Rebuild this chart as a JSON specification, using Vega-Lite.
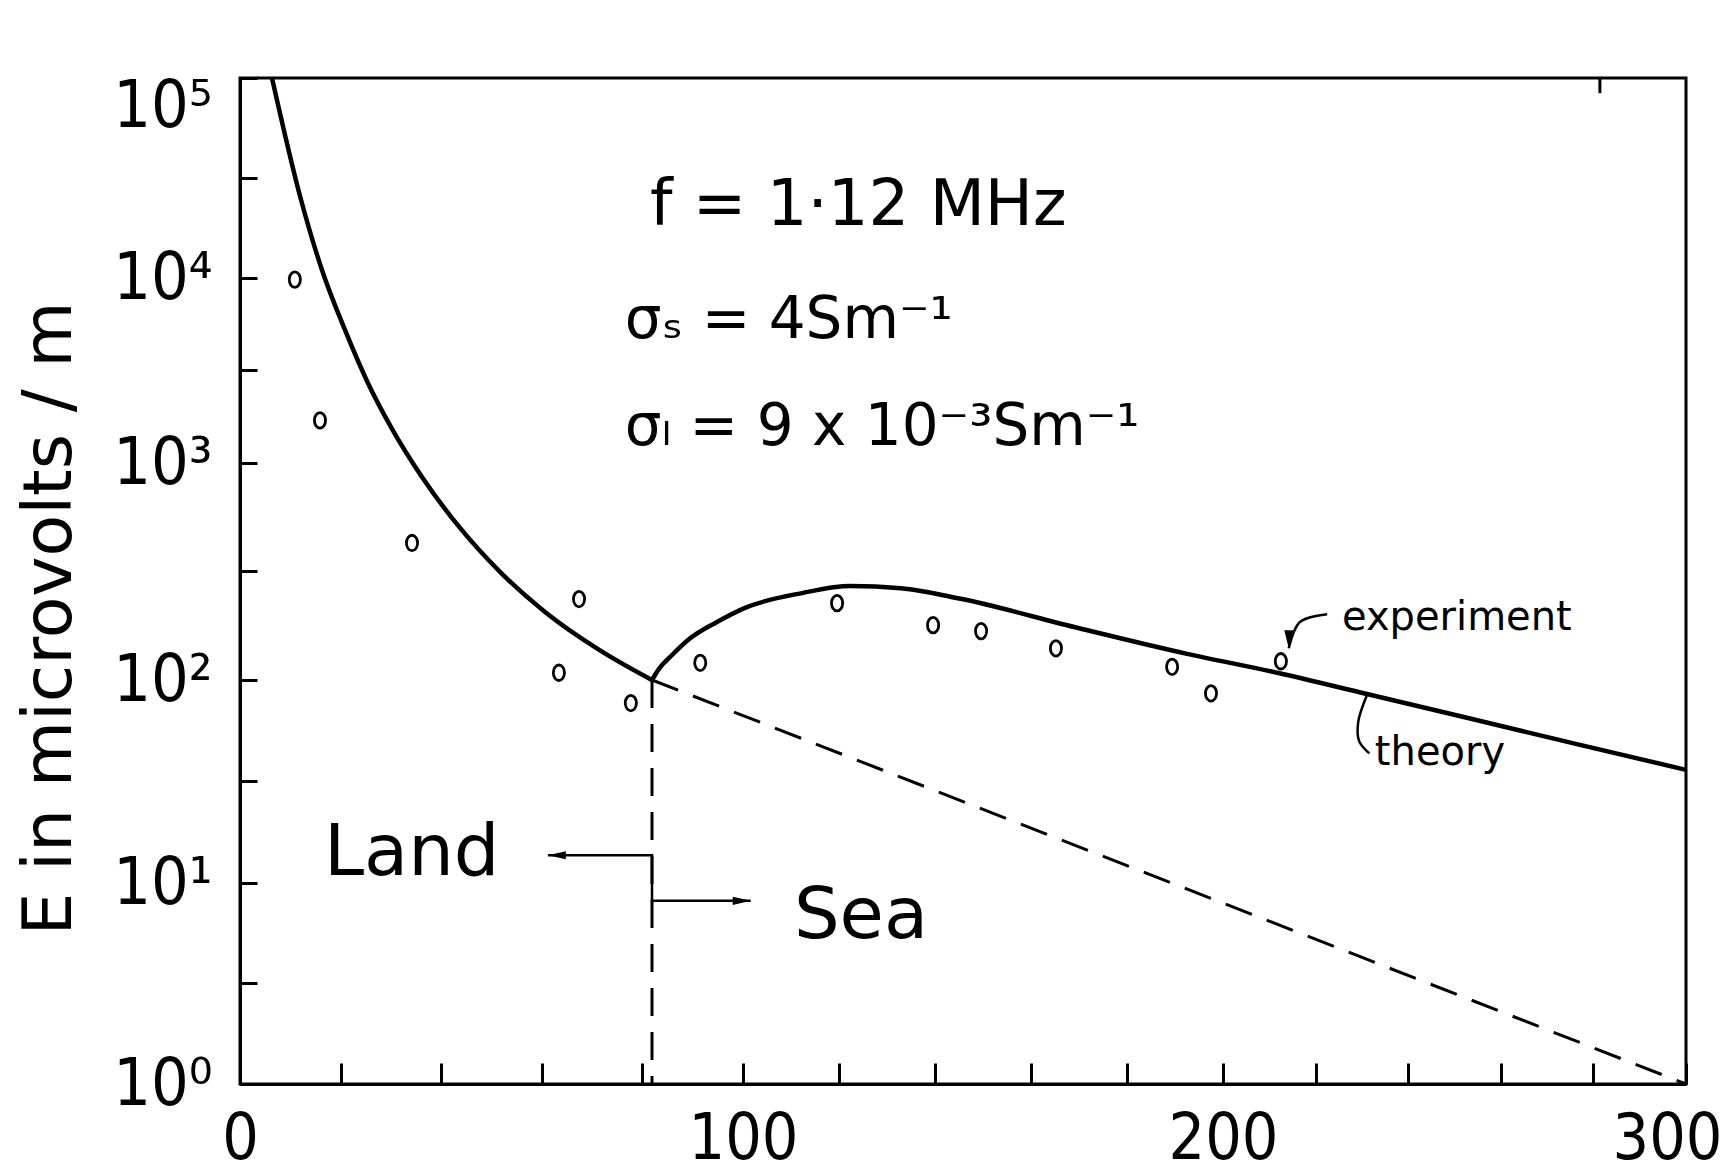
{
  "$schema": "https://vega.github.io/schema/vega-lite/v6.json",
  "width": 1446,
  "height": 1006,
  "autosize": "none",
  "padding": {"left": 240, "top": 78, "right": 45, "bottom": 89},
  "background": "white",
  "config": {
    "view": {"stroke": "black", "strokeWidth": 3},
    "font": "DejaVu Sans"
  },
  "datasets": {
    "theory": [
      {"km": 6.36, "E": 100000, "segment": "land"},
      {"km": 11.93, "E": 25700, "segment": "land"},
      {"km": 16.3, "E": 10960, "segment": "land"},
      {"km": 20.87, "E": 5240, "segment": "land"},
      {"km": 25.45, "E": 2700, "segment": "land"},
      {"km": 30.22, "E": 1530, "segment": "land"},
      {"km": 36.18, "E": 862, "segment": "land"},
      {"km": 43.74, "E": 502, "segment": "land"},
      {"km": 51.69, "E": 315, "segment": "land"},
      {"km": 60.64, "E": 206, "segment": "land"},
      {"km": 71.57, "E": 137, "segment": "land"},
      {"km": 81.91, "E": 100, "segment": "land"},
      {"km": 81.91, "E": 100, "segment": "sea"},
      {"km": 83.3, "E": 112.5, "segment": "sea"},
      {"km": 85.7, "E": 129, "segment": "sea"},
      {"km": 89.07, "E": 153, "segment": "sea"},
      {"km": 94.83, "E": 185, "segment": "sea"},
      {"km": 100.42, "E": 215, "segment": "sea"},
      {"km": 112.5, "E": 252, "segment": "sea"},
      {"km": 122.3, "E": 271, "segment": "sea"},
      {"km": 132.9, "E": 265, "segment": "sea"},
      {"km": 145.6, "E": 236, "segment": "sea"},
      {"km": 169.2, "E": 175, "segment": "sea"},
      {"km": 192.5, "E": 132, "segment": "sea"},
      {"km": 211.7, "E": 108, "segment": "sea"},
      {"km": 231.1, "E": 85.3, "segment": "sea"},
      {"km": 252.9, "E": 65.0, "segment": "sea"},
      {"km": 277.1, "E": 47.9, "segment": "sea"},
      {"km": 300, "E": 36.1, "segment": "sea"}
    ],
    "experiment": [
      {"km": 10.9, "E": 9800},
      {"km": 15.9, "E": 1700},
      {"km": 34.2, "E": 428},
      {"km": 63.4, "E": 108},
      {"km": 67.4, "E": 236},
      {"km": 77.7, "E": 77},
      {"km": 91.5, "E": 120},
      {"km": 119.6, "E": 226},
      {"km": 139.6, "E": 179},
      {"km": 149.6, "E": 168},
      {"km": 165.2, "E": 140},
      {"km": 189.4, "E": 115},
      {"km": 197.5, "E": 86},
      {"km": 212.5, "E": 122}
    ],
    "dashed": [
      {"km": 81.91, "E": 100, "part": "boundary"},
      {"km": 81.91, "E": 1, "part": "boundary"},
      {"km": 81.91, "E": 100, "part": "land-only"},
      {"km": 300, "E": 1, "part": "land-only"}
    ],
    "arrow": [
      {"km": 61.2, "E": 13.7, "step": 1},
      {"km": 81.91, "E": 13.7, "step": 2},
      {"km": 81.91, "E": 8.15, "step": 3},
      {"km": 101.6, "E": 8.15, "step": 4}
    ],
    "pointers": [
      {"km": 222.5, "E": 201, "part": "experiment", "step": 1},
      {"km": 216.6, "E": 185, "part": "experiment", "step": 2},
      {"km": 214.2, "E": 140, "part": "experiment", "step": 3},
      {"km": 231.1, "E": 84.3, "part": "theory", "step": 1},
      {"km": 229.2, "E": 62, "part": "theory", "step": 2},
      {"km": 229.4, "E": 50, "part": "theory", "step": 3},
      {"km": 231.6, "E": 43.5, "part": "theory", "step": 4}
    ],
    "heads": [
      {"km": 61.2, "E": 13.7, "dir": "left"},
      {"km": 101.6, "E": 8.15, "dir": "right"},
      {"km": 214.2, "E": 140, "dir": "down"}
    ],
    "toptick": [
      {"km": 281.4, "E": 100000, "E2": 84000}
    ],
    "notes": [
      {"km": 81.5, "E": 18400, "label": "f = 1·12 MHz", "group": "freq"},
      {"km": 76.5, "E": 4740, "label": "σₛ = 4Sm⁻¹", "group": "params"},
      {"km": 76.5, "E": 1250, "label": "σₗ = 9 x 10⁻³Sm⁻¹", "group": "params"},
      {"km": 16.7, "E": 10.96, "label": "Land", "group": "region"},
      {"km": 110.6, "E": 5.3, "label": "Sea", "group": "region"},
      {"km": 225.7, "E": 170, "label": "experiment", "group": "small"},
      {"km": 232.8, "E": 38.1, "label": "theory", "group": "small"}
    ]
  },
  "encoding": {
    "x": {
      "field": "km",
      "type": "quantitative",
      "scale": {"domain": [0, 100, 200, 300], "range": [0, 503, 983, 1446]},
      "axis": {
        "orient": "bottom",
        "values": [0, 20, 40, 60, 80, 100, 120, 140, 160, 180, 200, 220, 240, 260, 280, 300],
        "labelExpr": "datum.value % 100 == 0 ? datum.label : ''",
        "labelFlush": false,
        "title": null,
        "grid": false,
        "domainColor": "black",
        "domainWidth": 3,
        "tickColor": "black",
        "tickWidth": 3,
        "tickSize": -21,
        "labelFont": "Liberation Sans Narrow, DejaVu Sans Condensed, Liberation Sans, sans-serif",
        "labelFontSize": 64,
        "labelColor": "black",
        "labelPadding": 44,
        "labelOffset": {"condition": {"test": "datum.value == 300", "value": -19}, "value": 0}
      }
    },
    "y": {
      "field": "E",
      "type": "quantitative",
      "scale": {
        "type": "log",
        "domain": [1, 10, 100, 1000, 10000, 100000],
        "range": [1006, 805, 602, 385, 200, 0]
      },
      "axis": {
        "orient": "left",
        "values": [1, 3.1623, 10, 31.623, 100, 316.23, 1000, 3162.3, 10000, 31623, 100000],
        "labelExpr": "datum.value == 1 ? '10⁰' : datum.value == 10 ? '10¹' : datum.value == 100 ? '10²' : datum.value == 1000 ? '10³' : datum.value == 10000 ? '10⁴' : datum.value == 100000 ? '10⁵' : ''",
        "labelFlush": false,
        "title": "E in microvolts / m",
        "titleFont": "DejaVu Sans",
        "titleFontSize": 68,
        "titleFontWeight": "normal",
        "titleColor": "black",
        "titleX": -190,
        "titleY": 540,
        "titleAngle": -90,
        "titleAlign": "center",
        "titleBaseline": "middle",
        "grid": false,
        "domainColor": "black",
        "domainWidth": 3,
        "tickColor": "black",
        "tickWidth": 3,
        "tickSize": -17,
        "labelFont": "Liberation Sans Narrow, DejaVu Sans Condensed, Liberation Sans, sans-serif",
        "labelFontSize": 66,
        "labelColor": "black",
        "labelAlign": "right",
        "labelBaseline": "middle",
        "labelPadding": 45,
        "labelOffset": {"condition": {"test": "datum.value == 100000", "value": 28}, "value": 0}
      }
    }
  },
  "layer": [
    {
      "data": {"name": "theory"},
      "mark": {"type": "line", "interpolate": "monotone", "color": "black", "strokeWidth": 4.5},
      "encoding": {"detail": {"field": "segment", "type": "nominal"}}
    },
    {
      "data": {"name": "dashed"},
      "mark": {"type": "line", "color": "black", "strokeWidth": 3, "strokeDash": [28, 16]},
      "encoding": {"detail": {"field": "part", "type": "nominal"}}
    },
    {
      "data": {"name": "arrow"},
      "mark": {"type": "line", "color": "black", "strokeWidth": 2.5},
      "encoding": {"order": {"field": "step", "type": "quantitative"}}
    },
    {
      "data": {"name": "pointers"},
      "mark": {"type": "line", "color": "black", "strokeWidth": 2.5, "interpolate": "catmull-rom"},
      "encoding": {
        "detail": {"field": "part", "type": "nominal"},
        "order": {"field": "step", "type": "quantitative"}
      }
    },
    {
      "data": {"name": "heads"},
      "mark": {"type": "point", "filled": true, "color": "black", "opacity": 1},
      "encoding": {
        "shape": {
          "field": "dir",
          "type": "nominal",
          "scale": {
            "domain": ["left", "right", "down"],
            "range": ["M 0 0 L 2 -0.45 L 2 0.45 Z", "M 0 0 L -2 -0.45 L -2 0.45 Z", "M 0 0 L -0.5 -2 L 0.5 -2 Z"]
          },
          "legend": null
        },
        "size": {
          "field": "dir",
          "type": "ordinal",
          "scale": {"domain": ["left", "right", "down"], "range": [324, 324, 110]},
          "legend": null
        }
      }
    },
    {
      "data": {"name": "experiment"},
      "mark": {
        "type": "point",
        "shape": "M 0 -1 A 0.72 1 0 1 1 0 1 A 0.72 1 0 1 1 0 -1 Z",
        "filled": false,
        "color": "black",
        "strokeWidth": 2.8,
        "size": 240,
        "opacity": 1
      }
    },
    {
      "data": {"name": "toptick"},
      "mark": {"type": "rule", "color": "black", "strokeWidth": 3},
      "encoding": {"y2": {"field": "E2"}}
    },
    {
      "data": {"name": "notes"},
      "transform": [{"filter": "datum.group == 'freq'"}],
      "mark": {"type": "text", "align": "left", "baseline": "alphabetic", "font": "DejaVu Sans", "fontSize": 64, "color": "black"},
      "encoding": {"text": {"field": "label"}}
    },
    {
      "data": {"name": "notes"},
      "transform": [{"filter": "datum.group == 'params'"}],
      "mark": {"type": "text", "align": "left", "baseline": "alphabetic", "font": "DejaVu Sans", "fontSize": 58, "color": "black"},
      "encoding": {"text": {"field": "label"}}
    },
    {
      "data": {"name": "notes"},
      "transform": [{"filter": "datum.group == 'region'"}],
      "mark": {"type": "text", "align": "left", "baseline": "alphabetic", "font": "DejaVu Sans", "fontSize": 72, "color": "black"},
      "encoding": {"text": {"field": "label"}}
    },
    {
      "data": {"name": "notes"},
      "transform": [{"filter": "datum.group == 'small'"}],
      "mark": {"type": "text", "align": "left", "baseline": "alphabetic", "font": "DejaVu Sans", "fontSize": 40, "color": "black"},
      "encoding": {"text": {"field": "label"}}
    }
  ]
}
